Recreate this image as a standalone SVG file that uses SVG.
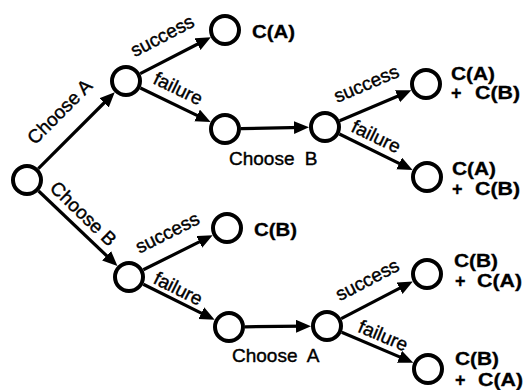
<svg xmlns="http://www.w3.org/2000/svg" width="524" height="390" viewBox="0 0 524 390">
<defs>
<marker id="ah" markerUnits="userSpaceOnUse" markerWidth="17" markerHeight="14" refX="9" refY="6.5" orient="auto">
<path d="M0,0 L15,6.5 L0,13 z" fill="#000"/>
</marker>
<style>
.n{fill:#fff;stroke:#000;stroke-width:4}
.e{stroke:#000;stroke-width:3.2;fill:none;marker-end:url(#ah)}
.l{font-family:"Liberation Sans",Arial,sans-serif;font-size:19px;fill:#000;stroke:#000;stroke-width:0.4}
.lm{font-family:"Liberation Sans",Arial,sans-serif;font-size:19px;fill:#000;stroke:#000;stroke-width:0.4;text-anchor:middle}
.b{font-family:"Liberation Sans",Arial,sans-serif;font-size:18px;font-weight:bold;fill:#000;stroke:#000;stroke-width:0.3}
</style>
</defs>
<rect width="524" height="390" fill="#fff"/>
<g id="connectors">
<line class="e" x1="38.3" y1="168.7" x2="110.5" y2="96.5"/>
<line class="e" x1="140.2" y1="73.7" x2="205.5" y2="40"/>
<line class="e" x1="140.4" y1="88" x2="205.2" y2="119.4"/>
<line class="e" x1="241" y1="128.7" x2="303" y2="127.4"/>
<line class="e" x1="339.7" y1="120.7" x2="405.8" y2="92.7"/>
<line class="e" x1="339.4" y1="134" x2="407.2" y2="167.4"/>
<line class="e" x1="38.6" y1="191" x2="113.1" y2="261.9"/>
<line class="e" x1="143.3" y1="269.8" x2="207.3" y2="237.9"/>
<line class="e" x1="143.3" y1="284.2" x2="209.3" y2="317.1"/>
<line class="e" x1="245" y1="326.8" x2="305" y2="326.2"/>
<line class="e" x1="341.2" y1="318.6" x2="407.5" y2="284.2"/>
<line class="e" x1="341.7" y1="332.3" x2="407.8" y2="360.4"/>
<text class="lm" transform="translate(60,112) rotate(-45)" y="6">Choose A</text>
<text class="lm" transform="translate(83,214) rotate(44)" y="6">Choose B</text>
<text class="lm" transform="translate(163,37) rotate(-27.5)" y="5">success</text>
<text class="lm" transform="translate(178,89) rotate(26)" y="6">failure</text>
<text class="l" x="229" y="165">Choose <tspan dx="5">B</tspan></text>
<text class="lm" transform="translate(367,85) rotate(-23)" y="5">success</text>
<text class="lm" transform="translate(376,137) rotate(26)" y="6">failure</text>
<text class="lm" transform="translate(168,234) rotate(-26.6)" y="5">success</text>
<text class="lm" transform="translate(178,289) rotate(26.6)" y="6">failure</text>
<text class="l" x="232" y="362">Choose <tspan dx="5">A</tspan></text>
<text class="lm" transform="translate(368,281) rotate(-27.5)" y="5">success</text>
<text class="lm" transform="translate(383,336) rotate(23)" y="6">failure</text>
</g>
<g id="root"><circle class="n" cx="27" cy="180" r="14"/></g>
<g id="a1"><circle class="n" cx="126" cy="81" r="14"/></g>
<g id="t1"><circle class="n" cx="225" cy="30" r="14"/><text class="b" x="252" y="38" textLength="43" lengthAdjust="spacingAndGlyphs">C(A)</text></g>
<g id="f1"><circle class="n" cx="225" cy="129" r="14"/></g>
<g id="b2"><circle class="n" cx="325" cy="127" r="14"/></g>
<g id="t2"><circle class="n" cx="426" cy="84" r="14"/><text class="b" x="451" y="80" textLength="44" lengthAdjust="spacingAndGlyphs">C(A)</text><text class="b" x="451" y="99">+</text><text class="b" x="475" y="99" textLength="45" lengthAdjust="spacingAndGlyphs">C(B)</text></g>
<g id="t3"><circle class="n" cx="427" cy="177" r="14"/><text class="b" x="452" y="175" textLength="44" lengthAdjust="spacingAndGlyphs">C(A)</text><text class="b" x="452" y="195">+</text><text class="b" x="475" y="195" textLength="45" lengthAdjust="spacingAndGlyphs">C(B)</text></g>
<g id="b1"><circle class="n" cx="129" cy="277" r="14"/></g>
<g id="t4"><circle class="n" cx="227" cy="228" r="14"/><text class="b" x="254" y="236" textLength="43" lengthAdjust="spacingAndGlyphs">C(B)</text></g>
<g id="f2"><circle class="n" cx="229" cy="327" r="14"/></g>
<g id="a2"><circle class="n" cx="327" cy="326" r="14"/></g>
<g id="t5"><circle class="n" cx="427" cy="274" r="14"/><text class="b" x="454" y="267" textLength="44" lengthAdjust="spacingAndGlyphs">C(B)</text><text class="b" x="455" y="287">+</text><text class="b" x="477" y="287" textLength="45" lengthAdjust="spacingAndGlyphs">C(A)</text></g>
<g id="t6"><circle class="n" cx="428" cy="369" r="14"/><text class="b" x="455" y="365" textLength="44" lengthAdjust="spacingAndGlyphs">C(B)</text><text class="b" x="455" y="386">+</text><text class="b" x="478" y="386" textLength="45" lengthAdjust="spacingAndGlyphs">C(A)</text></g>
</svg>
